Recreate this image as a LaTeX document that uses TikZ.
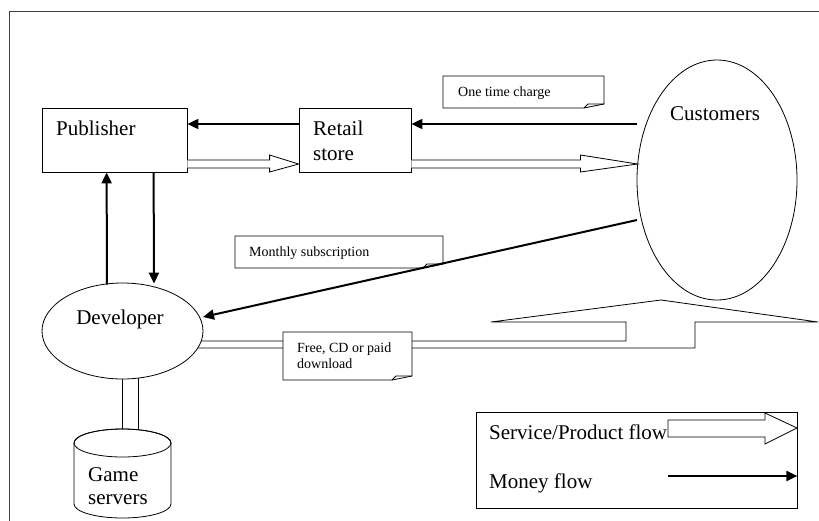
\documentclass[tikz,border=0pt]{standalone}
\usepackage{fontspec}
\setmainfont{Liberation Serif}
\usetikzlibrary{arrows.meta,calc,shapes.geometric}
\pgfdeclarelayer{bg}
\pgfsetlayers{bg,main}

% folded-corner note: name, x1, y1, x2, y2
\newcommand\drawnote[5]{%
  \draw[thinline, fill=white] (#2,#3) -- (#4,#3) -- (#4,{#5-4}) -- ({#4-20},#5) -- (#2,#5) -- cycle;
  \draw[thinline] ({#4-20},#5) -- ({#4-16},{#5-4}) -- (#4,{#5-4});
  \coordinate (#1) at (#2,#3);}

% hollow service/product arrow: start, tip, head length
\newcommand\flowarrow[3]{%
  \draw[flow] ($(#1)+(0,-4)$) -- ($(#2)+(-#3,-4)$) -- ($(#2)+(-#3,-9)$) -- (#2)
    -- ($(#2)+(-#3,8)$) -- ($(#2)+(-#3,4)$) -- ($(#1)+(0,4)$);}

\begin{document}
\begin{tikzpicture}[x=1pt,y=-1pt,
  thinline/.style={line width=0.8pt},
  box/.style={draw, thinline, fill=white, inner sep=0pt},
  oval/.style={ellipse, draw, thinline, fill=white, inner sep=0pt},
  big/.style={font=\fontsize{21}{25}\selectfont, inner sep=0pt},
  small/.style={font=\fontsize{14}{16}\selectfont, inner sep=0pt},
  money/.style={line width=2pt, -{Triangle[length=11pt,width=10pt]}},
  flow/.style={draw, thinline, fill=white, line join=miter}]

\useasboundingbox (0,0) rectangle (819,520);

% outer frame
\draw[black!75, line width=1pt] (9,522) -- (9,11) -- (822,11);

% main boxes
\node[box, minimum width=145pt, minimum height=64pt] (pub) at (114.5,140) {};
\node[box, minimum width=112pt, minimum height=64pt] (ret) at (355,140) {};
\node[oval, minimum width=160pt, minimum height=240pt] (cust) at (717,180) {};
\node[oval, minimum width=161pt, minimum height=96pt] (dev) at (122.5,331) {};

\node[big, anchor=base west] (tpub) at (56,135) {Publisher};
\node[big, anchor=base west] (tret1) at (313,135) {Retail};
\node[big, anchor=base west] (tret2) at (313,160) {store};
\node[big, anchor=base west] (tcust) at (670,120) {Customers};
\node[big, anchor=base] (tdev) at (120,324) {Developer};

% game servers cylinder
\coordinate (srv) at (122.5,429);
\draw[thinline, fill=white] (74,443) -- (74,504)
  arc[start angle=180, end angle=360, x radius=48.5pt, y radius=14pt]
  -- (171,443) arc[start angle=0, end angle=180, x radius=48.5pt, y radius=14pt] -- cycle;
\draw[thinline] (122.5,443) ellipse[x radius=48.5pt, y radius=14pt];
\node[big, anchor=base west] (tsrv1) at (88,481) {Game};
\node[big, anchor=base west] (tsrv2) at (88,504) {servers};

% shafts behind the shapes
\begin{pgfonlayer}{bg}
  \draw[flow] ($(dev.south)+(0,-6)$) rectangle ($(srv)+(16,6)$);
  \coordinate (apex) at (661,300);
  \draw[flow] ($(dev.east)+(-10,10)$) -- (626,341) -- (626,322) -- (491,322)
    -- (apex) -- (818,322) -- (695,322) -- (695,348)
    -- ($(dev.east)+(-10,17)$) -- cycle;
\end{pgfonlayer}

% service/product flows
\coordinate (p1) at ($(pub.east)+(0,24)$);
\coordinate (r1) at ($(ret.west)+(0,24)$);
\coordinate (r2) at ($(ret.east)+(0,24)$);
\coordinate (c1) at ($(cust.center)+(-79.5,-16)$);
\flowarrow{p1}{r1}{29}
\flowarrow{r2}{c1}{57}

% notes
\drawnote{nonce}{443}{76}{604}{108}
\node[small, anchor=base west] (tonce) at (458,96) {One time charge};
\drawnote{nmonth}{235}{236}{443}{268}
\node[small, anchor=base west] (tmonth) at (249,256) {Monthly subscription};
\drawnote{nfree}{283}{332}{412}{380}
\node[small, anchor=base west] (tfree1) at (297,352) {Free, CD or paid};
\node[small, anchor=base west] (tfree2) at (297,368) {download};

% money flows
\draw[money] ($(ret.west)+(0,-16)$) -- ($(pub.east)+(0,-16)$);
\draw[money] ($(cust.center)+(-80,-56)$) -- ($(ret.east)+(0,-16)$);
\draw[money] ($(dev.north)+(-15.5,2)$) -- ($(pub.south west)+(65,0)$);
\draw[money] ($(pub.south west)+(112,0)$) -- ($(dev.north)+(31.5,1)$);
\draw[money] ($(cust.center)+(-80,40)$) -- ($(dev.center)+(80.5,-14)$);

% legend
\node[box, minimum width=321pt, minimum height=96pt] (leg) at (636.5,460) {};
\node[big, anchor=base west] (tleg1) at (489,439) {Service/Product flow};
\node[big, anchor=base west] (tleg2) at (489,488) {Money flow};
\coordinate (legtip) at (797,428);
\draw[flow] (668,420) -- (765,420) -- (765,413) -- (legtip) -- (765,444) -- (765,437) -- (668,437) -- cycle;
\draw[money] (668,476) -- (leg.east |- 0,476);

\end{tikzpicture}
\end{document}
